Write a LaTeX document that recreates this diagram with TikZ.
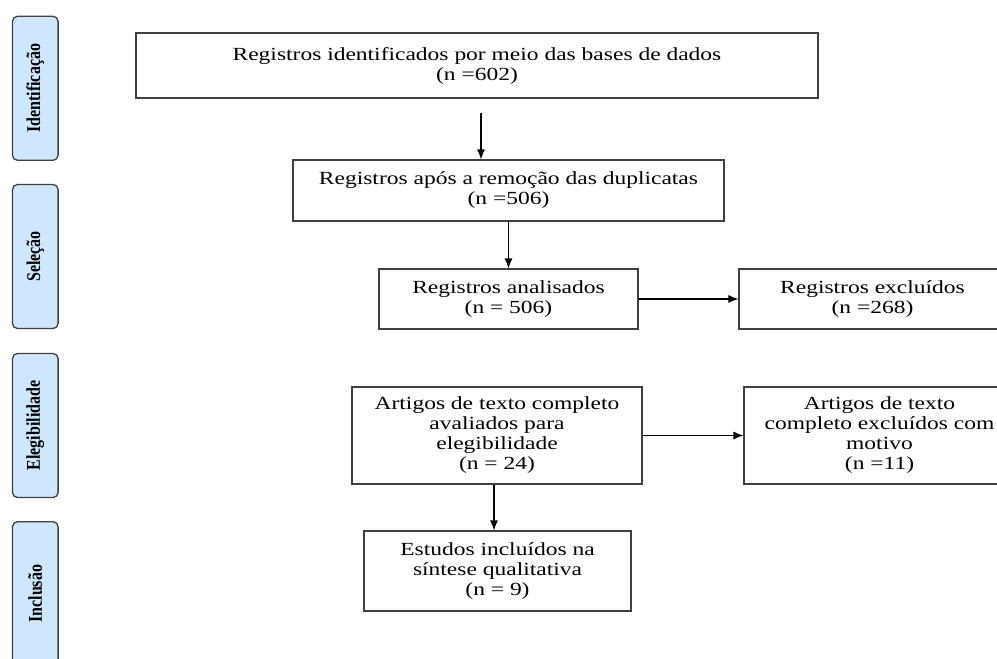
\documentclass[tikz,border=0pt]{standalone}
\usepackage{fontspec}
\setmainfont{Liberation Serif}[FakeStretch=1.27]
\newfontfamily\fasefont{Liberation Serif}[FakeStretch=0.82]
\usepackage{tikz}
\usetikzlibrary{arrows.meta,positioning}
\definecolor{faseazul}{RGB}{206,231,252}

\begin{document}
\begin{tikzpicture}[x=1pt, y=-1pt]
\tikzstyle{caixa}=[draw=black!75, line width=1.1pt, fill=white, align=center,
                   inner sep=2pt, font=\fontsize{18.5}{20}\selectfont]
\tikzstyle{fase}=[draw=black!75, line width=1.3pt, rounded corners=5pt, fill=faseazul,
                  minimum width=144pt, minimum height=45.6pt, rotate=90,
                  font=\fasefont\bfseries\fontsize{19.5}{19.5}\selectfont]
\tikzstyle{seta}=[-{Latex[length=10pt,width=8pt]}, line width=1.2pt]
\useasboundingbox (0,0) rectangle (997,659);
\fill[white] (0,0) rectangle (997,659);
% fases
\foreach \nome/\txt/\y in {fase1/Identificação/88.3, fase2/Seleção/256.5, fase3/Elegibilidade/425.5, fase4/Inclusão/593.7}{\node[fase] (\nome) at (35.3,\y) {\txt};}
% caixas
\node[caixa, minimum width=682pt, minimum height=65pt] (bases) at (477,65.5) {Registros identificados por meio das bases de dados\\(n =602)};
\node[caixa, minimum width=431pt, minimum height=61pt] (dupl) at (508.5,190.5) {Registros após a remoção das duplicatas\\(n =506)};
\node[caixa, minimum width=259pt, minimum height=60pt] (anal) at (508.5,299) {Registros analisados\\(n = 506)};
\node[caixa, minimum width=267pt, minimum height=60pt] (excl) at (872.5,299) {Registros excluídos\\(n =268)};
\node[caixa, minimum width=290pt, minimum height=97pt] (artg) at (497,435.5) {Artigos de texto completo\\avaliados para\\elegibilidade\\(n = 24)};
\node[caixa, minimum width=271pt, minimum height=97pt] (motv) at (879.5,435.5) {Artigos de texto\\completo excluídos com\\motivo\\(n =11)};
\node[caixa, minimum width=267pt, minimum height=80pt] (incl) at (497.5,571) {Estudos incluídos na\\síntese qualitativa\\(n = 9)};
% setas
\draw[seta, shorten <=14pt] ([xshift=4pt]bases.south) -- ([xshift=4pt]bases.south |- dupl.north);
\draw[seta] (dupl.south) -- (anal.north);
\draw[seta] (anal) -- (excl);
\draw[seta] (artg) -- (motv);
\draw[seta] ([xshift=-3pt]artg.south) -- ([xshift=-3pt]artg.south |- incl.north);
\end{tikzpicture}
\end{document}
